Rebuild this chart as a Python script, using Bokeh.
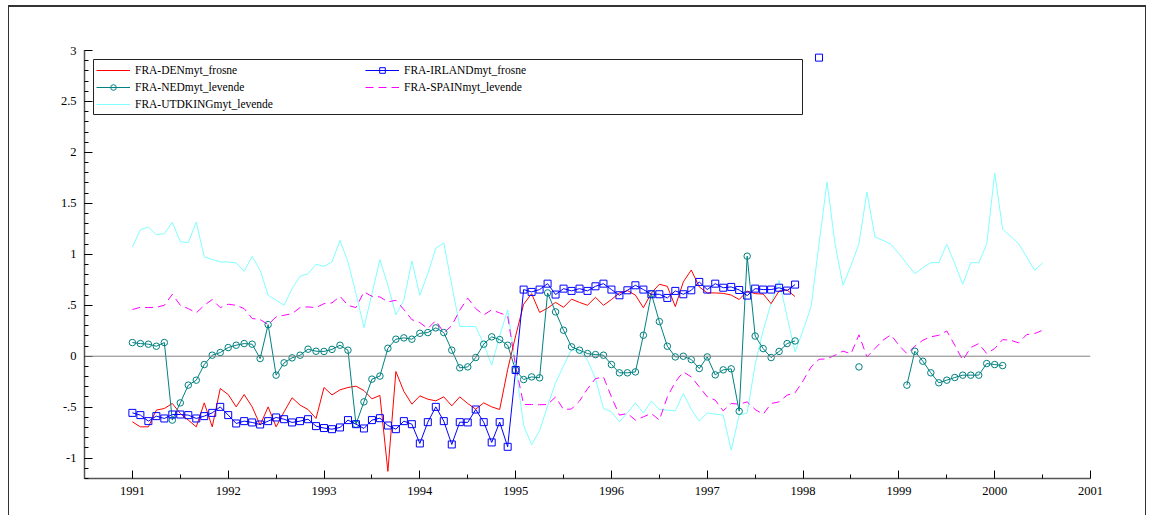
import math
from bokeh.plotting import figure
from bokeh.models import (ColumnDataSource, Legend, LegendItem, FixedTicker, Span,
                          BoxAnnotation, Range1d)
from bokeh.embed import file_html
from bokeh.resources import INLINE

NaN = float("nan")
START_YEAR = 1991  # first month = January 1991, monthly data

den_frosne = [
    -0.644, -0.693, -0.693, -0.529, -0.513, -0.464, -0.562, -0.627, -0.693, -0.458, -0.693, -0.317,
    -0.376, -0.497, -0.376, -0.497, -0.676, -0.497, -0.693, -0.546, -0.408, -0.480, -0.523, -0.611,
    -0.307, -0.380, -0.330, -0.307, -0.294, -0.337, -0.418, -0.385, -1.130, -0.150, -0.345, -0.470,
    -0.389, -0.422, -0.438, -0.399, -0.487, -0.399, -0.464, -0.520, -0.458, -0.497, -0.523, -0.130,
    0.200, 0.510, 0.614, 0.430, 0.472, 0.528, 0.480, 0.560, 0.528, 0.500, 0.578, 0.500,
    0.556, 0.620, 0.644, 0.600, 0.476, 0.620, 0.706, 0.686, 0.487, 0.729, 0.846, 0.680,
    0.621, 0.621, 0.617, 0.600, 0.556, 0.639, 0.614, 0.610, 0.516, 0.640, 0.650, 0.585,
]

irland_frosne = [
    -0.556, -0.578, -0.637, -0.588, -0.611, -0.572, -0.572, -0.578, -0.611, -0.588, -0.556, -0.497,
    -0.578, -0.660, -0.637, -0.650, -0.670, -0.637, -0.601, -0.618, -0.650, -0.637, -0.618, -0.686,
    -0.705, -0.716, -0.699, -0.627, -0.667, -0.709, -0.627, -0.608, -0.680, -0.716, -0.637, -0.667,
    -0.856, -0.647, -0.497, -0.637, -0.866, -0.647, -0.650, -0.523, -0.647, -0.846, -0.647, -0.889,
    -0.135, 0.654, 0.631, 0.654, 0.712, 0.605, 0.663, 0.641, 0.663, 0.641, 0.686, 0.712,
    0.654, 0.598, 0.647, 0.696, 0.654, 0.608, 0.608, 0.572, 0.641, 0.608, 0.647, 0.729,
    0.654, 0.712, 0.672, 0.680, 0.650, 0.595, 0.663, 0.654, 0.654, 0.672, 0.644, 0.703,
    NaN, NaN, 2.930,
]

ned_levende = [
    0.134, 0.124, 0.118, 0.098, 0.134, -0.627, -0.458, -0.284, -0.235, -0.082, 0.010, 0.036,
    0.085, 0.108, 0.124, 0.118, -0.023, 0.310, -0.186, -0.065, -0.016, 0.010, 0.069, 0.049,
    0.047, 0.067, 0.108, 0.059, -0.667, -0.448, -0.225, -0.195, 0.078, 0.167, 0.180, 0.167,
    0.225, 0.232, 0.278, 0.232, 0.059, -0.114, -0.105, -0.013, 0.118, 0.190, 0.163, 0.108,
    -0.137, -0.229, -0.203, -0.212, 0.621, 0.435, 0.255, 0.092, 0.059, 0.026, 0.016, 0.010,
    -0.082, -0.163, -0.163, -0.154, 0.206, 0.612, 0.340, 0.098, -0.007, 0.000, -0.033, -0.121,
    -0.007, -0.183, -0.134, -0.124, -0.540, 0.982, 0.198, 0.075, -0.013, 0.047, 0.124, 0.150,
    NaN, NaN, NaN, NaN, NaN, NaN, NaN, -0.105, NaN, NaN, NaN, NaN,
    NaN, -0.284, 0.049, -0.049, -0.163, -0.261, -0.235, -0.209, -0.186, -0.186, -0.186, -0.072,
    -0.082, -0.092,
]

spain_levende = [
    0.458, 0.480, 0.477, 0.480, 0.500, 0.608, 0.500, 0.467, 0.425, 0.500, 0.556, 0.477,
    0.510, 0.500, 0.467, 0.370, 0.360, 0.310, 0.386, 0.402, 0.418, 0.477, 0.484, 0.477,
    0.516, 0.523, 0.588, 0.500, 0.477, 0.631, 0.588, 0.582, 0.533, 0.549, 0.458, 0.359,
    0.330, 0.271, 0.350, 0.230, 0.300, 0.451, 0.570, 0.467, 0.405, 0.455, 0.425, 0.395,
    -0.100, -0.474, -0.474, -0.476, -0.474, -0.400, -0.523, -0.518, -0.440, -0.320, -0.220, -0.203,
    -0.400, -0.578, -0.562, -0.627, -0.595, -0.562, -0.627, -0.399, -0.252, -0.154, -0.203, -0.300,
    -0.399, -0.431, -0.536, -0.464, -0.471, -0.448, -0.523, -0.569, -0.464, -0.448, -0.382, -0.359,
    -0.242, -0.105, -0.030, -0.026, 0.010, 0.050, 0.023, 0.210, -0.007, 0.075, 0.157, 0.210,
    0.108, 0.026, 0.098, 0.157, 0.190, 0.206, 0.248, 0.108, -0.039, 0.085, 0.124, 0.026,
    0.075, 0.163, 0.157, 0.131, 0.212, 0.222, 0.255,
]

utdking_levende = [
    1.072, 1.242, 1.268, 1.193, 1.203, 1.314, 1.124, 1.114, 1.317, 0.974, 0.951, 0.925,
    0.925, 0.915, 0.833, 0.980, 0.843, 0.598, 0.549, 0.500, 0.663, 0.784, 0.810, 0.902,
    0.882, 0.925, 1.137, 0.925, 0.614, 0.281, 0.614, 0.948, 0.696, 0.408, 0.549, 0.935,
    0.598, 0.810, 1.060, 1.111, 0.700, 0.294, 0.291, 0.291, 0.120, -0.088, 0.200, 0.455,
    -0.100, -0.680, -0.868, -0.730, -0.490, -0.260, -0.093, 0.065, 0.050, -0.039, -0.219, -0.513,
    -0.546, -0.644, -0.556, -0.458, -0.556, -0.440, -0.523, -0.529, -0.536, -0.366, -0.523, -0.637,
    -0.556, -0.569, -0.578, -0.922, -0.578, -0.556, -0.080, 0.250, 0.520, 0.745, 0.386, 0.042,
    0.255, 0.484, 1.100, 1.709, 1.105, 0.696, 0.890, 1.105, 1.611, 1.170, 1.137, 1.098,
    1.007, 0.908, 0.810, 0.869, 0.918, 0.918, 1.098, 0.908, 0.706, 0.918, 0.918, 1.098,
    1.797, 1.245, 1.176, 1.105, 0.974, 0.843, 0.915,
]

labels = ["FRA-DENmyt_frosne", "FRA-IRLANDmyt_frosne", "FRA-NEDmyt_levende",
          "FRA-SPAINmyt_levende", "FRA-UTDKINGmyt_levende"]

x_ticks = list(range(1991, 2002))
x_minor = [y + 0.5 for y in range(1990, 2001)]
y_ticks = [-1, -0.5, 0, 0.5, 1, 1.5, 2, 2.5, 3]
y_tick_labels = ["-1", "-.5", "0", ".5", "1", "1.5", "2", "2.5", "3"]
y_minor = [round(-1.2 + 0.1 * k, 1) for k in range(43)]


def src(values):
    xs = [START_YEAR + i / 12.0 for i in range(len(values))]
    return ColumnDataSource(dict(x=xs, y=values))


p = figure(width=1152, height=515, output_backend="svg", toolbar_location=None,
           x_range=Range1d(1990.5, 2001.0), y_range=Range1d(-1.2, 3.0),
           min_border_left=84, min_border_right=62, min_border_top=50, min_border_bottom=37)
p.outline_line_color = None
p.xgrid.visible = False
p.ygrid.visible = False
p.background_fill_color = "white"
p.border_fill_alpha = 0
# outer page frame (left, top, right edges) painted behind the transparent border area
p.styles = {
    "background-color": "white",
    "background-image": "linear-gradient(#333333,#333333), linear-gradient(#333333,#333333), "
                        "linear-gradient(#333333,#333333)",
    "background-size": "1px 100%, 1138px 2px, 1px 100%",
    "background-position": "8px 6px, 8px 5px, 1145px 6px",
    "background-repeat": "no-repeat",
}

p.xaxis.ticker = FixedTicker(ticks=x_ticks, minor_ticks=x_minor)
p.yaxis.ticker = FixedTicker(ticks=y_ticks, minor_ticks=y_minor)
p.yaxis.major_label_overrides = {t: s for t, s in zip(y_ticks, y_tick_labels)}

for ax in (p.xaxis[0], p.yaxis[0]):
    ax.axis_line_color = "#555555"
    ax.axis_line_width = 1.5
    ax.major_tick_line_color = "black"
    ax.minor_tick_line_color = "black"
    ax.major_tick_out = 0
    ax.minor_tick_out = 0
    ax.major_tick_in = 8
    ax.minor_tick_in = 4
    ax.major_label_text_font = "Liberation Serif"
    ax.major_label_text_font_size = "12.5px"
    ax.major_label_text_color = "black"
    ax.major_label_standoff = 8

p.add_layout(Span(location=0, dimension="width", line_color="#808080", line_width=1))

r_uk = p.line("x", "y", source=src(utdking_levende), line_color="#80ffff", line_width=1)
r_es = p.line("x", "y", source=src(spain_levende), line_color="#ff00ff", line_width=1,
              line_dash="8 5")
r_den = p.line("x", "y", source=src(den_frosne), line_color="#ff0000", line_width=1)
s_ned = src(ned_levende)
r_ned = p.line("x", "y", source=s_ned, line_color="#008080", line_width=1)
m_ned = p.scatter("x", "y", source=s_ned, marker="circle", size=6.5, line_color="#008080",
                  fill_color=None, line_width=1)
s_irl = src(irland_frosne)
r_irl = p.line("x", "y", source=s_irl, line_color="#0000ff", line_width=1)
m_irl = p.scatter("x", "y", source=s_irl, marker="square", size=7, line_color="#0000ff",
                  fill_color=None, line_width=1)

common = dict(label_text_font="Liberation Serif", label_text_font_size="11.5px",
              label_text_color="black", glyph_width=34, glyph_height=14, label_height=14,
              label_standoff=5, spacing=3, padding=2, margin=0,
              border_line_color=None, background_fill_alpha=0)

leg_left = Legend(items=[LegendItem(label=labels[0], renderers=[r_den]),
                         LegendItem(label=labels[2], renderers=[r_ned, m_ned]),
                         LegendItem(label=labels[4], renderers=[r_uk])],
                  location=(12, 367), **common)
leg_right = Legend(items=[LegendItem(label=labels[1], renderers=[r_irl, m_irl]),
                          LegendItem(label=labels[3], renderers=[r_es])],
                   location=(281, 384), **common)
p.add_layout(leg_left)
p.add_layout(leg_right)

# legend frame
p.add_layout(BoxAnnotation(left=93, right=802, top=59, bottom=114,
                           left_units="canvas", right_units="canvas",
                           top_units="canvas", bottom_units="canvas",
                           fill_alpha=0, line_color="#222222", line_width=1, line_alpha=1))

open("out.html", "w").write(file_html(p, INLINE))
